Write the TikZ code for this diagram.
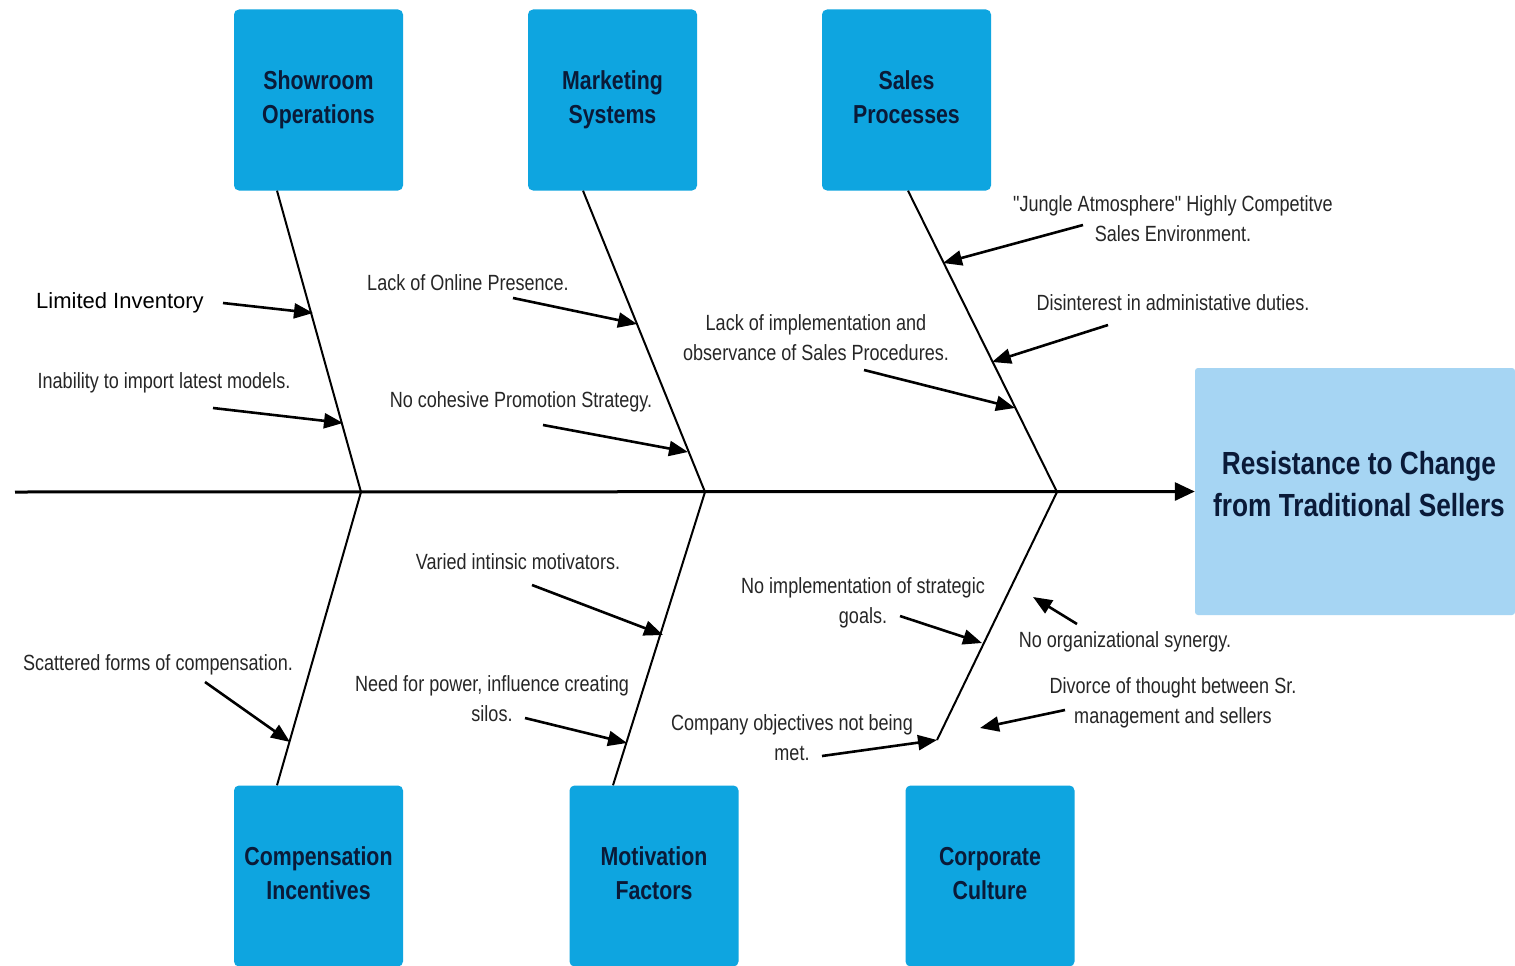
\documentclass[tikz,border=0pt]{standalone}
\usepackage{fontspec}
\setmainfont{Liberation Sans}
\newfontfamily\narrowfont[FakeStretch=0.82]{Liberation Sans}
\usetikzlibrary{arrows.meta}

\definecolor{catblue}{RGB}{14,165,224}
\definecolor{effectblue}{RGB}{166,213,243}
\definecolor{boxtext}{RGB}{10,26,56}
\definecolor{labelgray}{RGB}{38,38,38}

\tikzset{
  category/.style={fill=catblue, rounded corners=5pt, minimum width=169pt,
    minimum height=181pt, inner sep=0pt, align=center, text=boxtext,
    font=\narrowfont\bfseries\fontsize{26}{34}\selectfont},
  effectbox/.style={fill=effectblue, rounded corners=3pt, minimum width=320pt,
    minimum height=247pt, inner sep=0pt},
  effecttext/.style={align=center, inner sep=0pt, text=boxtext,
    font=\narrowfont\bfseries\fontsize{32}{42}\selectfont},
  cause/.style={align=center, inner sep=0pt, text=labelgray,
    font=\narrowfont\fontsize{22}{30}\selectfont},
  bone/.style={line width=2pt, black},
  spine/.style={line width=3pt, black, -{Triangle[length=20pt,width=18pt]}},
  causearrow/.style={line width=2.6pt, black, -{Triangle[length=19pt,width=15pt]}},
}

\begin{document}
\begin{tikzpicture}[x=1pt, y=-1pt]
\clip (0,0) rectangle (1515,966);
\fill[white] (0,0) rectangle (1515,966);

% category boxes
\node[category] (sho) at (318.5,100) {Showroom\strut\\Operations\strut};
\node[category] (mkt) at (612.5,100) {Marketing\strut\\Systems\strut};
\node[category] (sal) at (906.5,100) {Sales\strut\\Processes\strut};
\node[category] (cmp) at (318.5,876) {Compensation\strut\\Incentives\strut};
\node[category] (mot) at (654,876) {Motivation\strut\\Factors\strut};
\node[category] (cor) at (990,876) {Corporate\strut\\Culture\strut};

% effect box with its caption
\node[effectbox, label={[effecttext, xshift=4pt, yshift=4pt]center:Resistance to Change\strut\\from Traditional Sellers\strut}] (eff) at (1355,491.5) {};

% spine and joints
\coordinate (tail) at (15,492);
\coordinate (j1) at (361,492);
\coordinate (j2) at (705,492);
\coordinate (j3) at (1057,492);
\coordinate (corend) at (937,740);
\draw[spine] (tail) -- (eff.west);

% bones
\draw[bone] ([xshift=-41.5pt]sho.south) -- (j1);
\draw[bone] ([xshift=-29.5pt]mkt.south) -- (j2);
\draw[bone] ([xshift=1.5pt]sal.south) -- (j3);
\draw[bone] (j1) -- ([xshift=-41.5pt]cmp.north);
\draw[bone] (j2) -- ([xshift=-41pt]mot.north);
\draw[bone] (j3) -- (corend);

% causes: showroom operations
\node[inner sep=0pt, text=black, font=\fontsize{22}{26}\selectfont] (c1) at (120,303) {Limited Inventory};
\coordinate (c1a) at (223,303); \coordinate (c1b) at (313,313);
\draw[causearrow] (c1a) -- (c1b);
\node[cause] (c2) at (164,383) {Inability to import latest models.};
\coordinate (c2a) at (213,408); \coordinate (c2b) at (343,423);
\draw[causearrow] (c2a) -- (c2b);

% causes: marketing systems
\node[cause] (c3) at (468,283) {Lack of Online Presence.};
\coordinate (c3a) at (513,298); \coordinate (c3b) at (637,324);
\draw[causearrow] (c3a) -- (c3b);
\node[cause] (c4) at (521,402) {No cohesive Promotion Strategy.};
\coordinate (c4a) at (543,425); \coordinate (c4b) at (688,452);
\draw[causearrow] (c4a) -- (c4b);

% causes: sales processes
\node[cause] (c5) at (1173,219) {"Jungle Atmosphere" Highly Competitve\\Sales Environment.};
\coordinate (c5a) at (1083,225); \coordinate (c5b) at (943,263);
\draw[causearrow] (c5a) -- (c5b);
\node[cause] (c6) at (1173,303) {Disinterest in administative duties.};
\coordinate (c6a) at (1108,325); \coordinate (c6b) at (992,362);
\draw[causearrow] (c6a) -- (c6b);
\node[cause] (c7) at (816,338) {Lack of implementation and\\observance of Sales Procedures.};
\coordinate (c7a) at (864,370); \coordinate (c7b) at (1015,408);
\draw[causearrow] (c7a) -- (c7b);

% causes: compensation incentives
\node[cause] (c8) at (158,665) {Scattered forms of compensation.};
\coordinate (c8a) at (205,682); \coordinate (c8b) at (290,742);
\draw[causearrow] (c8a) -- (c8b);

% causes: motivation factors
\node[cause] (c9) at (518,562) {Varied intinsic motivators.};
\coordinate (c9a) at (532,585); \coordinate (c9b) at (663,635);
\draw[causearrow] (c9a) -- (c9b);
\node[cause] (c10) at (492,699) {Need for power, influence creating\\silos.};
\coordinate (c10a) at (525,718); \coordinate (c10b) at (627,743);
\draw[causearrow] (c10a) -- (c10b);

% causes: corporate culture
\node[cause] (c11) at (863,603) {No implementation of strategic\\goals.};
\coordinate (c11a) at (900,616); \coordinate (c11b) at (982,643);
\draw[causearrow] (c11a) -- (c11b);
\node[cause] (c12) at (792,738) {Company objectives not being\\met.};
\coordinate (c12a) at (822,756);
\draw[causearrow] (c12a) -- (corend);
\node[cause] (c13) at (1125,642) {No organizational synergy.};
\coordinate (c13a) at (1077,624); \coordinate (c13b) at (1033,597);
\draw[causearrow] (c13a) -- (c13b);
\node[cause] (c14) at (1173,703) {Divorce of thought between Sr.\\management and sellers};
\coordinate (c14a) at (1065,710); \coordinate (c14b) at (980,728);
\draw[causearrow] (c14a) -- (c14b);
\end{tikzpicture}
\end{document}
